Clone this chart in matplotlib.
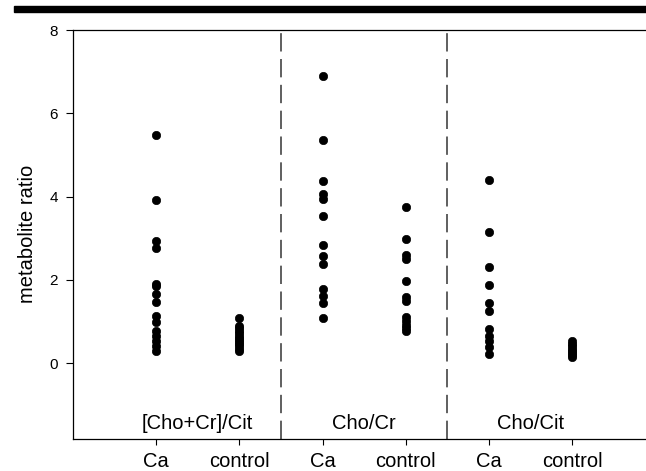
import matplotlib.pyplot as plt
from matplotlib.patches import Rectangle

plt.rcParams["font.family"] = ["Liberation Sans", "DejaVu Sans"]

# ---- data ----
group_names = ["[Cho+Cr]/Cit", "Cho/Cr", "Cho/Cit"]
tick_labels = ["Ca", "control", "Ca", "control", "Ca", "control"]

chocr_cit_ca = [5.48, 3.92, 2.94, 2.77, 1.91, 1.85, 1.67, 1.46, 1.14, 0.98,
                0.78, 0.66, 0.54, 0.42, 0.30]
chocr_cit_ctrl = [1.09, 0.90, 0.84, 0.78, 0.72, 0.66, 0.60, 0.55, 0.50,
                  0.45, 0.40, 0.35, 0.30]
cho_cr_ca = [6.90, 5.36, 4.38, 4.05, 3.95, 3.54, 2.83, 2.58, 2.38, 1.79,
             1.62, 1.45, 1.08]
cho_cr_ctrl = [3.76, 2.98, 2.60, 2.50, 1.97, 1.60, 1.49, 1.10, 1.00, 0.92,
               0.85, 0.78]
cho_cit_ca = [4.40, 3.16, 2.32, 1.88, 1.44, 1.24, 0.83, 0.66, 0.54, 0.38,
              0.22]
cho_cit_ctrl = [0.52, 0.46, 0.40, 0.35, 0.30, 0.25, 0.20, 0.15]

series = [chocr_cit_ca, chocr_cit_ctrl, cho_cr_ca, cho_cr_ctrl,
          cho_cit_ca, cho_cit_ctrl]

W, H = 646, 471
fig = plt.figure(figsize=(W / 100, H / 100), dpi=100)
ax = fig.add_axes([73 / W, 1 - 438.5 / H, 1 - 73 / W + 0.002, (438.5 - 30) / H])

for i, vals in enumerate(series):
    ax.plot([i + 1] * len(vals), vals, "o", color="black", ms=6,
            mec="black", mew=0.5, zorder=3, clip_on=False)

# dashed separators between metabolite groups
for xs in (2.5, 4.5):
    ax.axvline(xs, color="#444444", lw=1.2, dashes=(11, 4.5))

for k, name in enumerate(group_names):
    ax.text(2 * k + 1.5, -1.45, name, ha="center", va="center", fontsize=14.5)

ax.set_xlim(0, (W - 73) / 83)
ax.set_ylim(-1.81, 8)
ax.set_xticks(range(1, 7))
ax.set_xticklabels(tick_labels, fontsize=14.5)
ax.set_yticks([0, 2, 4, 6, 8])
ax.tick_params(axis="y", direction="out", length=5, width=0.8, pad=6, labelsize=11)
ax.tick_params(axis="x", direction="out", length=4, width=0.8, pad=6)
ax.spines["right"].set_visible(False)
for s in ("left", "bottom", "top"):
    ax.spines[s].set_linewidth(0.9)
ax.set_ylabel("metabolite ratio", fontsize=14.5, labelpad=9)

# thick black rule across the top of the page
fig.patches.append(Rectangle((14 / W, 1 - 12 / H), 1, 6 / H,
                             transform=fig.transFigure, color="black"))

fig.savefig("out.png", dpi=100)
